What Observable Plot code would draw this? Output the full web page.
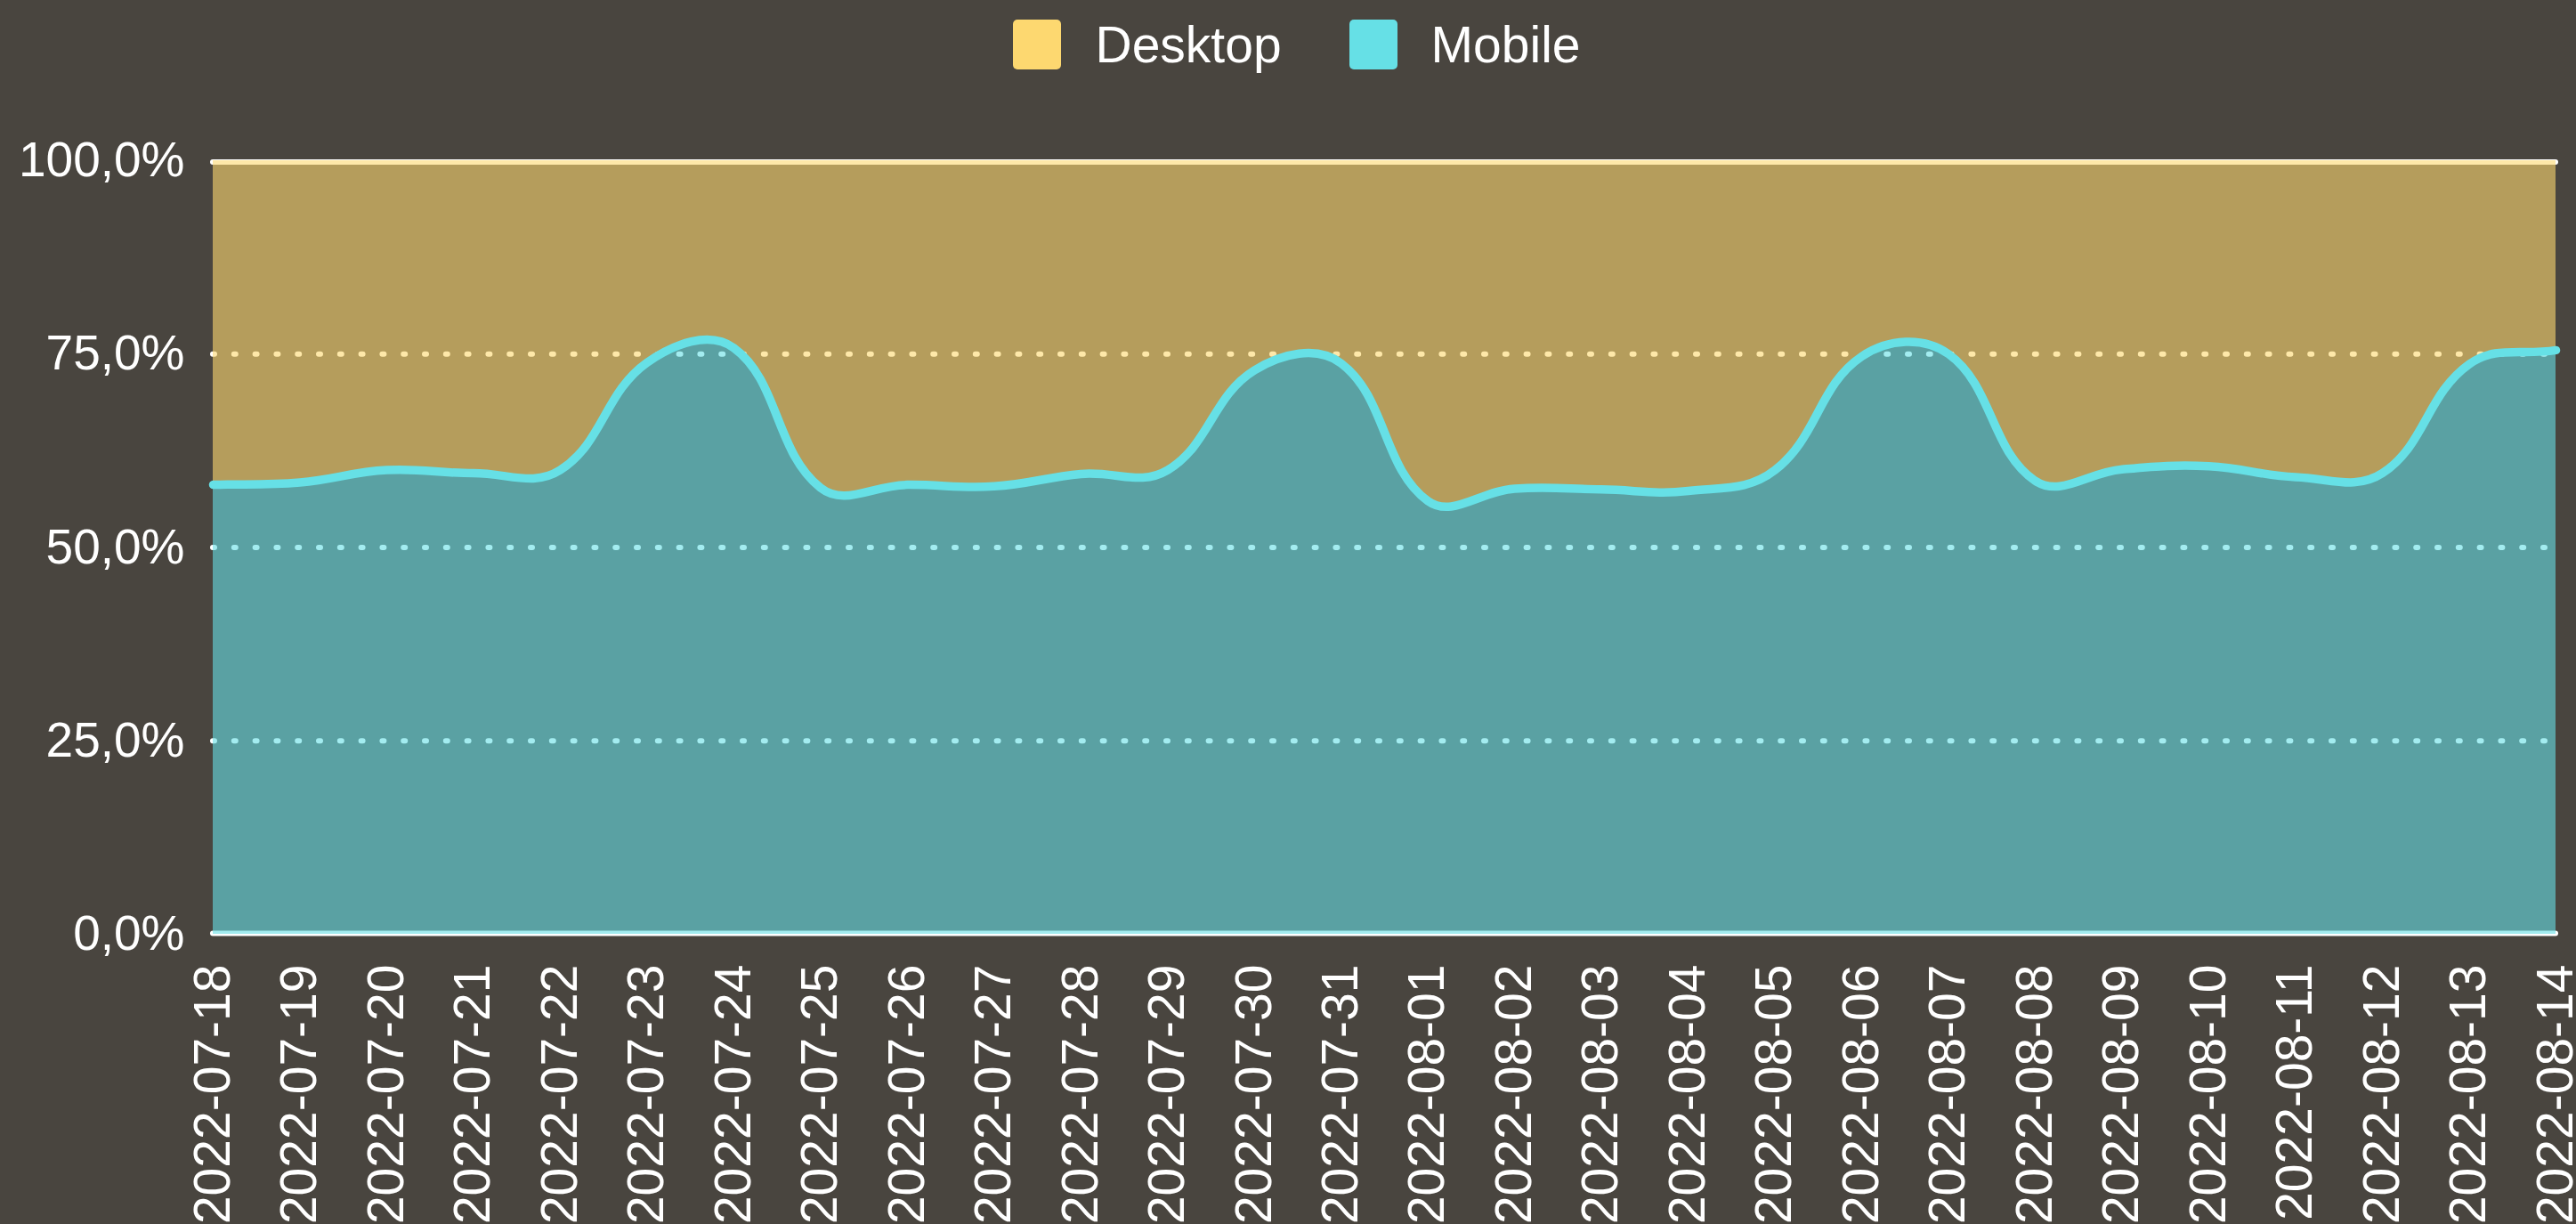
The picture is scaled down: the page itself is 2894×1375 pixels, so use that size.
<!DOCTYPE html>
<html>
<head>
<meta charset="utf-8">
<script src="https://cdn.jsdelivr.net/npm/d3@7"></script>
<script src="https://cdn.jsdelivr.net/npm/@observablehq/plot@0.6"></script>
<style>
  html, body { margin: 0; padding: 0; background: #49453f; width: 2894px; height: 1375px; overflow: hidden; }
  #legend { height: 100px; display: flex; align-items: center; justify-content: center; padding-left: 20px;
            font-family: "Liberation Sans", Arial, sans-serif; font-size: 57px; color: #fff; }
  .item { display: flex; align-items: center; margin: 0 38px; }
  .sw { width: 54px; height: 56px; border-radius: 5px; margin-right: 38px; box-sizing: border-box; }
</style>
</head>
<body>
<div id="legend"></div>
<div id="chart"></div>
<script>
const dates = ["2022-07-18","2022-07-19","2022-07-20","2022-07-21","2022-07-22","2022-07-23","2022-07-24",
  "2022-07-25","2022-07-26","2022-07-27","2022-07-28","2022-07-29","2022-07-30","2022-07-31",
  "2022-08-01","2022-08-02","2022-08-03","2022-08-04","2022-08-05","2022-08-06","2022-08-07",
  "2022-08-08","2022-08-09","2022-08-10","2022-08-11","2022-08-12","2022-08-13","2022-08-14"];
const mobile = [58.1, 58.4, 60.0, 59.6, 60.0, 73.9, 75.8, 57.7, 58.1, 57.9, 59.5, 60.0, 72.9, 73.8,
  56.0, 57.6, 57.5, 57.3, 60.0, 74.7, 75.0, 58.6, 60.1, 60.5, 59.1, 59.6, 73.7, 75.5];
const desktop = [41.9, 41.6, 40.0, 40.4, 40.0, 26.1, 24.2, 42.3, 41.9, 42.1, 40.5, 40.0, 27.1, 26.2,
  44.0, 42.4, 42.5, 42.7, 40.0, 25.3, 25.0, 41.4, 39.9, 39.5, 40.9, 40.4, 26.3, 24.5];
const devices = ["Desktop", "Mobile"];
const deviceColors = ["#fdd870", "#66e0e6"];
const yTicks = [0, 25, 50, 75, 100];
const yTickLabels = ["0,0%", "25,0%", "50,0%", "75,0%", "100,0%"];

// legend
const legend = document.getElementById("legend");
devices.forEach((d, i) => {
  const it = document.createElement("div"); it.className = "item";
  const sw = document.createElement("div"); sw.className = "sw"; sw.style.background = deviceColors[i];
  const tx = document.createElement("span"); tx.textContent = d;
  it.appendChild(sw); it.appendChild(tx); legend.appendChild(it);
});

// Chart.js-like spline curve (tension 0.4)
class SplineCurve {
  constructor(context, t) { this._context = context; this._t = t; }
  areaStart() { this._line = 0; }
  areaEnd() { this._line = NaN; }
  lineStart() { this._pts = []; }
  point(x, y) { this._pts.push([+x, +y]); }
  lineEnd() {
    const p = this._pts, n = p.length, c = this._context, t = this._t;
    if (n) {
      if (this._line) c.lineTo(p[0][0], p[0][1]); else c.moveTo(p[0][0], p[0][1]);
      if (n === 2) c.lineTo(p[1][0], p[1][1]);
      else if (n > 2) {
        const cps = p.map((cur, i) => {
          const prev = p[Math.max(0, i - 1)], next = p[Math.min(n - 1, i + 1)];
          const d01 = Math.hypot(cur[0] - prev[0], cur[1] - prev[1]);
          const d12 = Math.hypot(next[0] - cur[0], next[1] - cur[1]);
          let s01 = d01 / (d01 + d12), s12 = d12 / (d01 + d12);
          if (!isFinite(s01)) s01 = 0; if (!isFinite(s12)) s12 = 0;
          const fa = t * s01, fb = t * s12;
          return {
            px: cur[0] - fa * (next[0] - prev[0]), py: cur[1] - fa * (next[1] - prev[1]),
            nx: cur[0] + fb * (next[0] - prev[0]), ny: cur[1] + fb * (next[1] - prev[1])
          };
        });
        for (let i = 1; i < n; i++) c.bezierCurveTo(cps[i-1].nx, cps[i-1].ny, cps[i].px, cps[i].py, p[i][0], p[i][1]);
      }
    }
    if (this._line || (this._line !== 0 && n === 1)) c.closePath();
    this._line = 1 - this._line;
  }
}
const spline = (context) => new SplineCurve(context, 0.4);

const rows = [];
dates.forEach((d, i) => rows.push({date: d, device: "Mobile", share: mobile[i]}));
dates.forEach((d, i) => rows.push({date: d, device: "Desktop", share: desktop[i]}));
const mobileRows = rows.filter(r => r.device === "Mobile");

const chart = Plot.plot({
  width: 2894,
  height: 1275,
  marginTop: 80,
  marginBottom: 326,
  marginLeft: 239,
  marginRight: 23,
  style: {background: "#49453f", color: "#fff", fontFamily: "Liberation Sans, Arial, sans-serif", fontSize: "55px"},
  x: {type: "point", domain: dates, padding: 0, round: false, label: null},
  y: {domain: [0, 100], label: null},
  color: {domain: devices, range: deviceColors},
  marks: [
    Plot.ruleY([25, 50, 75], {stroke: "#fff", strokeWidth: 6, strokeDasharray: "2 21.8", strokeLinecap: "round"}),
    Plot.ruleY([100], {stroke: "#fff", strokeWidth: 6, strokeLinecap: "round", dy: 1.5}),
    Plot.ruleY([0], {stroke: "#fff", strokeWidth: 6, strokeLinecap: "round", dy: -1}),
    Plot.areaY(rows, Plot.stackY({x: "date", y: "share", z: "device", fill: "device", fillOpacity: 0.6,
      order: ["Mobile", "Desktop"], curve: spline})),
    Plot.lineY(mobileRows, {x: "date", y: "share", stroke: deviceColors[1], strokeWidth: 9.5,
      strokeLinecap: "round", strokeLinejoin: "round", curve: spline}),
    Plot.axisY({ticks: yTicks, tickFormat: d => yTickLabels[yTicks.indexOf(d)], tickSize: 0, tickPadding: 32,
      fontSize: 55, fill: "#fff", label: null}),
    Plot.axisX({tickRotate: -90, tickSize: 0, tickPadding: 34, fontSize: 57, fill: "#fff", label: null})
  ]
});
document.getElementById("chart").appendChild(chart);
</script>
</body>
</html>
